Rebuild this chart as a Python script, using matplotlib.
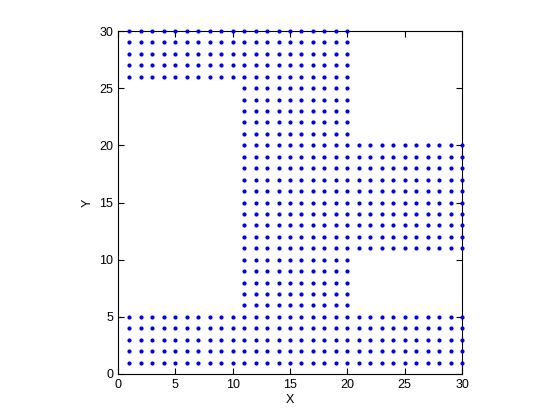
import numpy as np
import matplotlib
matplotlib.use("Agg")
import matplotlib.pyplot as plt

plt.rcParams['font.family'] = ['Liberation Sans', 'DejaVu Sans']

# Rectangular blocks of integer grid points (inclusive ranges)
block_x_start = [1, 11, 21, 1]
block_x_end = [20, 20, 30, 30]
block_y_start = [26, 6, 11, 1]
block_y_end = [30, 25, 20, 5]

xticks = [0, 5, 10, 15, 20, 25, 30]
yticks = [0, 5, 10, 15, 20, 25, 30]

xs, ys = [], []
for x0, x1, y0, y1 in zip(block_x_start, block_x_end, block_y_start, block_y_end):
    gx, gy = np.meshgrid(np.arange(x0, x1 + 1), np.arange(y0, y1 + 1))
    xs.extend(gx.ravel())
    ys.extend(gy.ravel())

fig = plt.figure(figsize=(5.6, 4.2), dpi=100)
ax = fig.add_axes([118/560, 46/420, 344/560, 343/420])
ax.plot(xs, ys, '.', color='#0000e0', markersize=4, clip_on=False, zorder=3)
ax.set_xlim(0, 30)
ax.set_ylim(0, 30)
ax.set_xticks(xticks)
ax.set_yticks(yticks)
ax.tick_params(direction='in', top=True, right=True, length=4, labelsize=9, width=0.8)
for s in ax.spines.values():
    s.set_linewidth(0.8)
ax.set_xlabel('X', fontsize=9, labelpad=2)
ax.set_ylabel('Y', fontsize=9, labelpad=4)
fig.savefig('out.png', dpi=100)
